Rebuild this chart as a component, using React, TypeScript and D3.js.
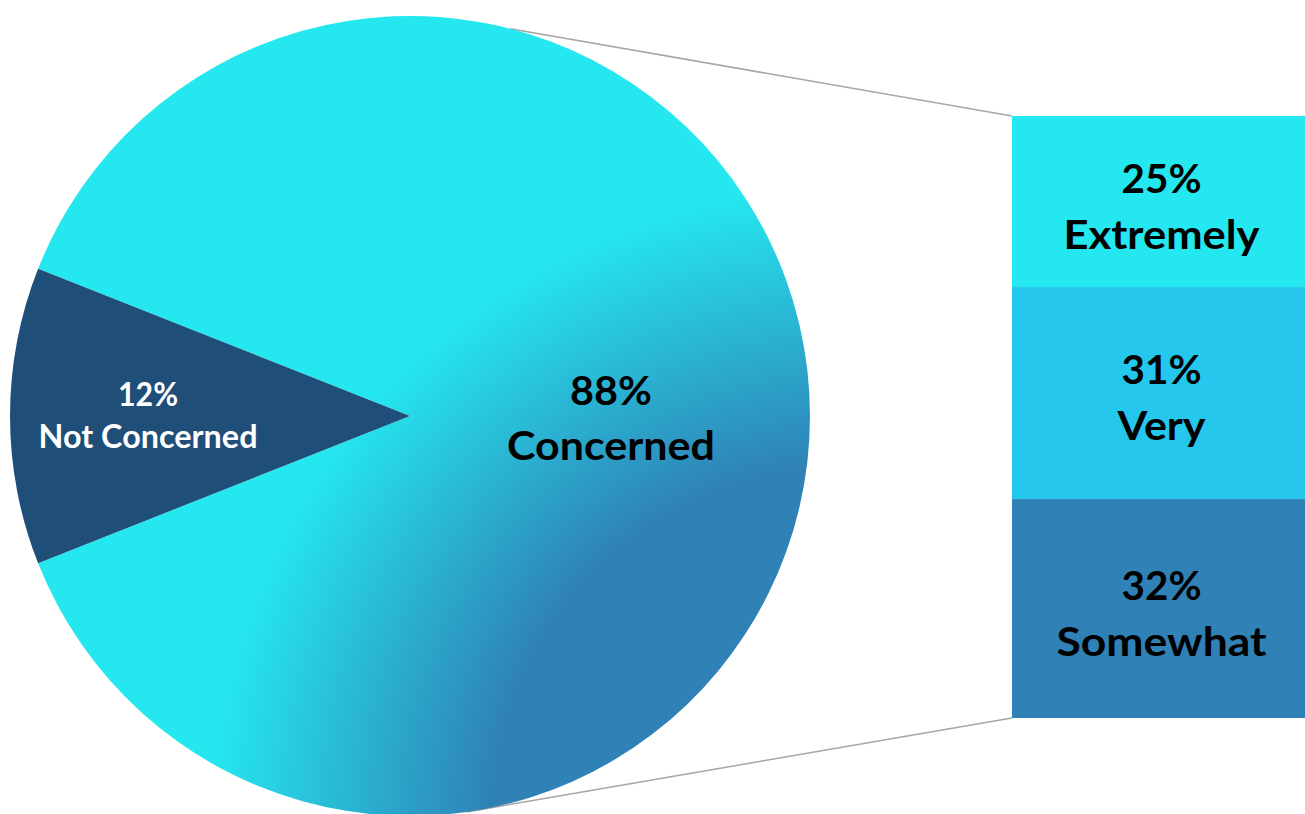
import React from "react";
import * as d3 from "d3";

// ---- data ----
const pieCategories = ["Not Concerned", "Concerned"];
const pieValues = [12, 88];
const barCategories = ["Extremely", "Very", "Somewhat"];
const barValues = [25, 31, 32];

const W = 1305;
const H = 814;

const CYAN = "#25E7EF";
const BLUE = "#2F81B6";
const DARK = "#1F4E79";
const barColors = ["#25E7EF", "#25C7ED", "#2F81B6"];
// label widths (styling) to mimic the narrow original typeface
const barWordWidth: Record<string, number> = { Extremely: 196, Very: 88, Somewhat: 210 };

export default function App() {
  const cx = 410;
  const cy = 416;
  const R = 400;

  const span = (pieValues[0] / d3.sum(pieValues)) * 2 * Math.PI;
  const start = 1.5 * Math.PI - span / 2;
  const pie = d3
    .pie<number>()
    .sort(null)
    .value((d) => d)
    .startAngle(start)
    .endAngle(start + 2 * Math.PI);
  const arcs = pie(pieValues);
  const arc = d3.arc<d3.PieArcDatum<number>>().innerRadius(0).outerRadius(R);

  // bar scale
  const barTop = 116;
  const barBottom = 718;
  const barX0 = 1012;
  const barX1 = 1305;
  const y = d3
    .scaleLinear()
    .domain([0, d3.sum(barValues)])
    .range([barTop, barBottom]);
  let acc = 0;
  const segs = barValues.map((v, i) => {
    const s = { cat: barCategories[i], v, y0: y(acc), y1: y(acc + v), color: barColors[i] };
    acc += v;
    return s;
  });

  // connector lines: from points on pie circle to bar corners
  const topAng = (-75.5 * Math.PI) / 180;
  const botAng = (81.8 * Math.PI) / 180;
  const p1 = [cx + R * Math.cos(topAng), cy + R * Math.sin(topAng)];
  const p2 = [cx + R * Math.cos(botAng), cy + R * Math.sin(botAng)];

  const labelArcNot = d3.arc<d3.PieArcDatum<number>>().innerRadius(262).outerRadius(262);
  const labelArcCon = d3.arc<d3.PieArcDatum<number>>().innerRadius(201).outerRadius(201);
  const [nx, ny] = labelArcNot.centroid(arcs[0]);
  const [kx, ky] = labelArcCon.centroid(arcs[1]);

  const font = "Lato, 'Open Sans', sans-serif";

  return (
    <svg
      width={W}
      height={H}
      style={{ position: "absolute", left: 0, top: 0, display: "block", background: "#fff" }}
    >
      <defs>
        <radialGradient
          id="concGrad"
          gradientUnits="userSpaceOnUse"
          cx={1.1 * R}
          cy={1.02 * R}
          r={1.6 * R}
        >
          <stop offset={0.56} stopColor={BLUE} />
          <stop offset={1} stopColor={CYAN} />
        </radialGradient>
      </defs>

      {/* connectors */}
      <line x1={p1[0]} y1={p1[1]} x2={barX0} y2={barTop} stroke="#A6A6A6" strokeWidth={1.5} />
      <line x1={p2[0]} y1={p2[1]} x2={barX0} y2={barBottom} stroke="#A6A6A6" strokeWidth={1.5} />

      <g transform={`translate(${cx},${cy})`}>
        <path d={arc(arcs[1]) || ""} fill="url(#concGrad)" />
        <path d={arc(arcs[0]) || ""} fill={DARK} />
      </g>

      {/* pie labels */}
      <g fontFamily={font} fontWeight={700} textAnchor="middle">
        <text x={cx + nx} y={cy + ny - 10} fontSize={32} fill="#fff" textLength={60} lengthAdjust="spacingAndGlyphs">
          {pieValues[0]}%
        </text>
        <text x={cx + nx} y={cy + ny + 32} fontSize={32} fill="#fff" textLength={219} lengthAdjust="spacingAndGlyphs">
          {pieCategories[0]}
        </text>
        <text x={cx + kx} y={cy + ky - 11} fontSize={41} fill="#000" textLength={82} lengthAdjust="spacingAndGlyphs">
          {pieValues[1]}%
        </text>
        <text x={cx + kx} y={cy + ky + 44} fontSize={41} fill="#000" textLength={208} lengthAdjust="spacingAndGlyphs">
          {pieCategories[1]}
        </text>
      </g>

      {/* bar */}
      {segs.map((s) => (
        <rect key={s.cat} x={barX0} y={s.y0} width={barX1 - barX0} height={s.y1 - s.y0} fill={s.color} />
      ))}
      <g fontFamily={font} fontWeight={700} textAnchor="middle" fill="#000" fontSize={41}>
        {segs.map((s) => {
          const c = (s.y0 + s.y1) / 2;
          const mx = (barX0 + barX1) / 2 + 3;
          return (
            <g key={s.cat}>
              <text x={mx} y={c - 9} textLength={80} lengthAdjust="spacingAndGlyphs">{s.v}%</text>
              <text x={mx} y={c + 47} textLength={barWordWidth[s.cat]} lengthAdjust="spacingAndGlyphs">{s.cat}</text>
            </g>
          );
        })}
      </g>
    </svg>
  );
}
